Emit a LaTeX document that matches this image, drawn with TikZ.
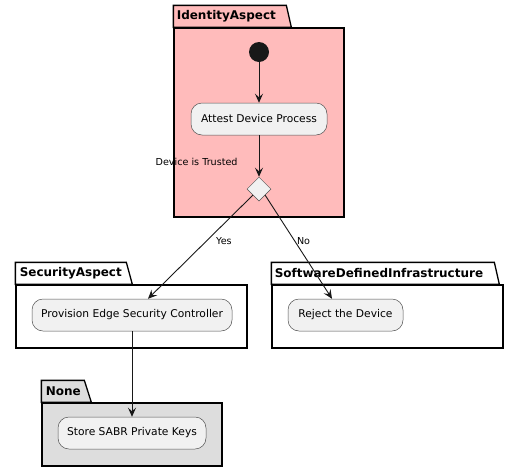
\documentclass[tikz,border=0pt]{standalone}
\usepackage{fontspec}
\setmainfont{DejaVu Sans}
\usepackage{tikz}
\usetikzlibrary{calc}
\usetikzlibrary{arrows.meta}
\usetikzlibrary{shapes.geometric}
\tikzset{>={Stealth[length=9pt,width=8pt,inset=3.5pt]}}
\definecolor{idpink}{HTML}{FFBBBB}
\definecolor{nonegray}{HTML}{DDDDDD}
\definecolor{actfill}{HTML}{F1F1F1}
\definecolor{ink}{HTML}{181818}
\tikzstyle{action} = [draw=ink!75, fill=actfill, rectangle, rounded corners=11pt,
    line width=0.5pt, inner sep=0pt, minimum height=32pt,
    font=\fontsize{10.7}{12}\selectfont]
\tikzstyle{decision} = [draw=ink!75, fill=actfill, diamond, line width=0.5pt,
    inner sep=0pt, minimum size=24pt]
\tikzstyle{start} = [fill=ink, circle, inner sep=0pt, minimum size=20pt]
\tikzstyle{pkg} = [draw=black, rectangle, line width=1.3pt, inner sep=0pt]
\tikzstyle{pkgtab} = [draw=black, line width=1.3pt]
\tikzstyle{tabtext} = [anchor=west, inner sep=0pt, font=\bfseries\fontsize{12}{14}\selectfont]
\tikzstyle{guard} = [inner sep=1pt, font=\fontsize{9.6}{11}\selectfont]

\begin{document}
\begin{tikzpicture}[x=1pt, y=-1pt, ink, line width=0.9pt]
    \useasboundingbox (0,0) rectangle (519,472);
    % We start by placing the package bodies
    \node [pkg, fill=idpink, minimum width=170pt, minimum height=189pt] (idBody) at (259,122.5) {};
    \node [pkg, fill=white, minimum width=231pt, minimum height=63pt] (secBody) at (131.5,316.5) {};
    \node [pkg, fill=white, minimum width=231pt, minimum height=63pt] (sdiBody) at (387.5,316.5) {};
    \node [pkg, fill=nonegray, minimum width=180pt, minimum height=63pt] (noneBody) at (132,434.5) {};

    % The tabs sit on the top left corner of each body
    \draw [pkgtab, fill=idpink] (idBody.north west) |- ++(113,-22) -- ++(5,22) -- cycle;
    \draw [pkgtab, fill=white] (secBody.north west) |- ++(111,-22) -- ++(6,22) -- cycle;
    \draw [pkgtab, fill=white] (sdiBody.north west) |- ++(223,-22) -- ++(5,22) -- cycle;
    \draw [pkgtab, fill=nonegray] (noneBody.north west) |- ++(43,-22) -- ++(7,22) -- cycle;
    \node [tabtext, black] (idTitle) at ([shift={(3,-11)}]idBody.north west) {IdentityAspect};
    \node [tabtext, black] (secTitle) at ([shift={(4,-11)}]secBody.north west) {SecurityAspect};
    \node [tabtext, black] (sdiTitle) at ([shift={(3,-11)}]sdiBody.north west) {SoftwareDefinedInfrastructure};
    \node [tabtext, black] (noneTitle) at ([shift={(4,-11)}]noneBody.north west) {None};

    % Then the activities
    \node [start] (init) at (259,52) {};
    \node [action, minimum width=136pt, text=black] (attest) at (259,119) {Attest Device Process};
    \node [decision] (trusted) at (259,189) {};
    \node [action, minimum width=200pt, text=black] (provision) at (132,315) {Provision Edge Security Controller};
    \node [action, minimum width=115pt, text=black] (reject) at (345.5,315) {Reject the Device};
    \node [action, minimum width=148pt, text=black] (store) at (132,433) {Store SABR Private Keys};

    % Once the nodes are placed, connecting them is easy.
    \draw [->] (init) -- (attest);
    \draw [->] (attest) -- node [guard, pos=0.64, anchor=east, xshift=-20pt, text=black] {Device is Trusted} (trusted);
    \draw [->] (trusted.south west) -- node [guard, pos=0.44, anchor=west, xshift=8pt, text=black] {Yes}
        ([xshift=16pt]provision.north);
    \draw [->] (trusted.south east) -- node [guard, pos=0.44, anchor=west, xshift=1pt, text=black] {No}
        ([xshift=-13.5pt]reject.north);
    \draw [->] (provision) -- (store);
\end{tikzpicture}
\end{document}
